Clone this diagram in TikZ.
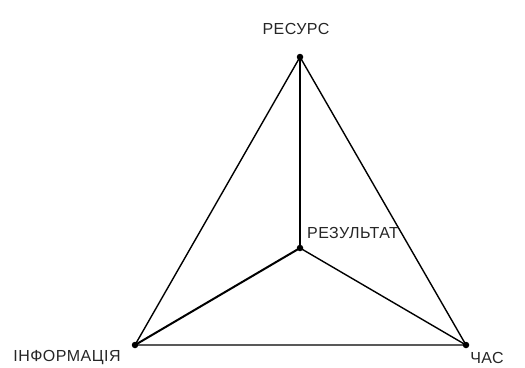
\documentclass[tikz,border=0pt]{standalone}
\usepackage{fontspec}
\setmainfont{Liberation Sans}
\begin{document}
\begin{tikzpicture}[x=1pt,y=-1pt,
  dot/.style={circle,fill=black,inner sep=0pt,minimum size=6.5pt},
  lbl/.style={font=\fontsize{16}{19}\selectfont,text=black!85,inner sep=0pt},
  edge/.style={line width=1.4pt},
  spoke/.style={line width=2pt}]
\useasboundingbox (0,0) rectangle (525,367);
\node[dot] (t) at (300,57) {};
\node[dot] (c) at (300,248) {};
\node[dot] (l) at (135,345) {};
\node[dot] (r) at (466,345) {};
\draw[edge] (t.center) -- (l.center) -- (r.center) -- cycle;
\draw[spoke] (t.center) -- (c.center);
\draw[spoke] (c.center) -- (l.center);
\draw[edge] (c.center) -- (r.center);
\node[lbl] (tl) at (296,29) {\addfontfeature{LetterSpace=3}РЕСУРС};
\node[lbl,anchor=west] (cl) at (307,233) {\addfontfeature{LetterSpace=3}РЕЗУЛЬТАТ};
\node[lbl] (ll) at (67,358) {\addfontfeature{LetterSpace=3}ІНФОРМАЦІЯ};
\node[lbl] (rl) at (487,358) {\addfontfeature{LetterSpace=3}ЧАС};
\end{tikzpicture}
\end{document}
